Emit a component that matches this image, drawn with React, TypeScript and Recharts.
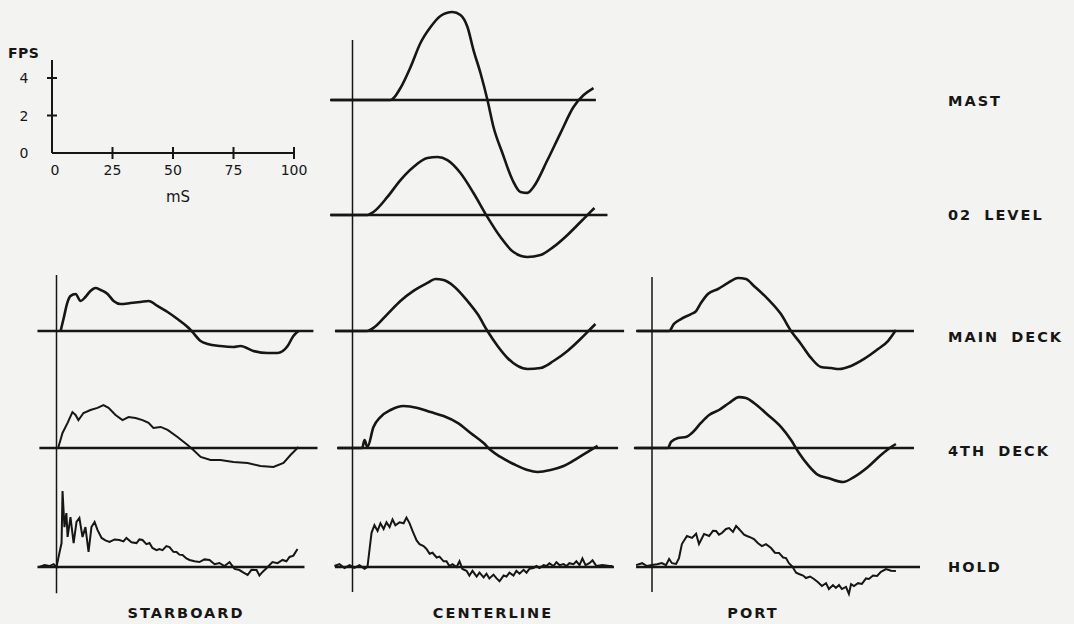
import React from 'react';
import { LineChart, Line, XAxis, YAxis, ReferenceLine } from 'recharts';

const W = 1074;
const H = 624;
const PX_PER_MS = 2.41;
const PX_PER_FPS = 19;
const INK = '#161616';
const PAPER = '#f3f3f1';
const FONT = '"DejaVu Sans", "Liberation Sans", sans-serif';

// velocity traces, [time mS, velocity FPS]
const mastCenterline = [[-9, 0], [15.8, 0], [19.9, 0.63], [24.1, 1.74], [28.2, 3.0], [32.4, 3.84], [36.5, 4.42], [41.5, 4.63], [44.8, 4.47], [47.7, 3.84], [50.2, 2.63], [53.1, 1.42], [56.0, 0], [58.5, -1.42], [62.2, -2.79], [66.4, -4.21], [69.7, -4.84], [72.6, -4.89], [75.1, -4.58], [80.9, -3.16], [86.3, -1.74], [91.7, -0.37], [95.9, 0.26], [100, 0.63]];
const level02Centerline = [[-9, 0], [6.2, 0], [8.7, 0.16], [14.5, 0.95], [19.9, 1.84], [25.3, 2.53], [31.1, 3.0], [35.3, 3.05], [39.4, 2.89], [44.8, 2.21], [50.2, 1.16], [56.0, -0.11], [61.4, -1.16], [66.8, -1.95], [72.6, -2.21], [78.0, -2.11], [83.4, -1.68], [89.2, -1.05], [94.6, -0.37], [97.5, 0], [100.4, 0.37]];

const mainStarboard = [[1.7, 0], [2.9, 0.63], [4.6, 1.53], [5.8, 1.84], [7.9, 1.95], [10.0, 1.58], [12.0, 1.79], [14.1, 2.11], [16.2, 2.26], [18.3, 2.16], [21.2, 1.95], [23.7, 1.58], [26.6, 1.42], [30.7, 1.47], [34.9, 1.53], [38.2, 1.58], [41.9, 1.32], [46.1, 1.0], [50.2, 0.63], [54.4, 0.21], [56.4, -0.05], [59.8, -0.53], [62.7, -0.68], [68.0, -0.79], [73.4, -0.84], [76.3, -0.79], [81.7, -1.05], [87.6, -1.16], [91.7, -1.16], [95.9, -0.79], [98.3, -0.26], [100.4, 0]];
const mainCenterline = [[-7, 0], [6.1, 0], [8.7, 0.16], [14.5, 0.89], [19.9, 1.58], [25.3, 2.11], [31.1, 2.53], [34.4, 2.74], [37.8, 2.68], [41.9, 2.37], [47.7, 1.58], [51.9, 0.89], [56.0, 0], [60.2, -0.79], [64.3, -1.42], [68.5, -1.84], [72.6, -2.0], [78.0, -1.95], [83.4, -1.58], [89.2, -1.05], [94.6, -0.42], [97.9, 0], [100.8, 0.37]];
const mainPort = [[-6, 0], [7.1, 0], [9.1, 0.37], [12.0, 0.63], [16.2, 0.89], [18.3, 1.05], [20.3, 1.47], [23.2, 1.95], [27.4, 2.21], [31.5, 2.53], [35.7, 2.79], [39.0, 2.74], [42.3, 2.37], [48.1, 1.68], [53.5, 0.89], [57.7, 0], [61.8, -0.68], [66.0, -1.42], [70.1, -1.89], [74.3, -1.95], [77.6, -2.0], [82.6, -1.84], [88.0, -1.47], [93.8, -0.95], [97.9, -0.53], [101.2, 0.05]];

const fourthStarboard = [[0.8, 0.05], [2.5, 0.79], [4.6, 1.32], [6.6, 1.89], [7.9, 1.74], [9.1, 1.47], [11.2, 1.84], [14.1, 2.0], [17.0, 2.11], [19.5, 2.26], [21.6, 2.11], [24.5, 1.74], [27.4, 1.47], [29.9, 1.63], [32.8, 1.58], [35.7, 1.47], [38.2, 1.32], [40.2, 1.05], [43.2, 1.11], [46.1, 0.95], [50.2, 0.58], [54.4, 0.16], [56.8, -0.11], [59.8, -0.47], [63.9, -0.63], [68.0, -0.63], [73.4, -0.74], [79.3, -0.79], [84.6, -0.95], [90.0, -1.0], [94.2, -0.79], [97.1, -0.37], [100.4, 0.05]];
const fourthCenterline = [[-6, 0], [4.0, 0], [5.0, 0.42], [6.2, 0.05], [8.7, 1.1], [11.6, 1.63], [15.8, 2.0], [21.2, 2.21], [27.0, 2.11], [32.4, 1.89], [37.8, 1.68], [43.6, 1.32], [49.0, 0.79], [54.4, 0.26], [57.3, -0.11], [61.4, -0.47], [66.8, -0.84], [72.6, -1.16], [76.8, -1.26], [82.2, -1.16], [87.6, -0.95], [93.4, -0.53], [98.8, -0.11], [101.7, 0.11]];
const fourthPort = [[-7, 0], [6.6, 0], [7.9, 0.32], [10.8, 0.53], [14.1, 0.58], [17.0, 0.84], [20.3, 1.32], [23.7, 1.74], [27.8, 2.0], [32.0, 2.37], [36.1, 2.68], [39.0, 2.63], [42.3, 2.37], [48.1, 1.74], [53.5, 1.11], [57.7, 0.42], [61.0, -0.26], [64.7, -0.89], [68.9, -1.42], [73.0, -1.58], [79.3, -1.79], [83.8, -1.53], [89.6, -1.0], [95.0, -0.37], [99.2, 0.05], [101.2, 0.21]];

const holdStarboard = [[-7.1, 0], [-5.0, 0.1], [-2.9, 0.05], [-1.2, 0.15], [0, 0], [1.2, 0.74], [2.1, 1.26], [2.5, 4.0], [3.3, 2.1], [4.1, 2.84], [4.6, 1.58], [5.8, 2.63], [7.1, 1.26], [8.3, 2.37], [9.5, 2.58], [10.8, 1.58], [12.0, 2.1], [13.3, 0.79], [14.5, 2.1], [15.8, 2.37], [17.0, 1.95], [18.7, 1.53], [20.3, 1.4], [22.0, 1.32], [24.1, 1.45], [26.1, 1.42], [27.8, 1.35], [29.0, 1.53], [31.1, 1.3], [33.2, 1.26], [34.4, 1.45], [35.7, 1.42], [37.3, 1.2], [38.6, 1.26], [39.8, 1.0], [41.5, 0.89], [42.7, 0.95], [44.0, 0.89], [45.6, 1.1], [46.9, 1.05], [48.5, 0.8], [49.8, 0.79], [51.0, 0.65], [52.3, 0.63], [53.9, 0.45], [55.2, 0.37], [57.3, 0.3], [59.3, 0.26], [61.4, 0.4], [63.5, 0.37], [65.6, 0.15], [67.6, 0.21], [69.7, 0.05], [71.8, 0.26], [73.9, -0.1], [75.9, -0.16], [77.6, -0.3], [79.3, -0.42], [80.9, -0.15], [83.0, -0.16], [84.2, -0.45], [85.5, -0.26], [87.6, 0.0], [89.6, 0.26], [91.7, 0.2], [93.8, 0.37], [95.4, 0.3], [96.7, 0.53], [98.3, 0.6], [100.0, 0.95]];
const holdCenterline = [[-7.5, 0.05], [-5.4, 0.15], [-3.3, -0.05], [-1.2, 0.1], [0.8, -0.05], [2.9, 0.1], [5.0, -0.1], [6.2, 0], [7.9, 1.8], [9.1, 2.2], [10.4, 1.9], [11.6, 2.3], [12.9, 2.0], [14.1, 2.35], [15.4, 2.1], [16.6, 2.5], [17.8, 2.2], [19.5, 2.35], [21.2, 2.3], [22.4, 2.6], [23.7, 2.3], [24.9, 1.9], [26.6, 1.4], [27.8, 1.2], [29.5, 1.1], [30.7, 0.95], [32.0, 0.7], [33.2, 0.75], [34.9, 0.5], [36.1, 0.55], [37.8, 0.3], [39.0, 0.3], [40.2, 0.05], [41.5, 0.15], [43.2, 0.0], [44.4, 0.3], [45.6, -0.1], [47.3, -0.2], [48.5, -0.45], [49.8, -0.2], [51.5, -0.5], [52.7, -0.3], [54.4, -0.55], [55.6, -0.35], [56.8, -0.6], [58.5, -0.4], [59.8, -0.6], [61.0, -0.75], [62.7, -0.45], [63.9, -0.5], [65.1, -0.3], [66.8, -0.45], [68.0, -0.2], [69.3, -0.35], [71.0, -0.15], [72.2, -0.3], [73.4, -0.1], [75.1, -0.05], [76.3, 0.05], [77.6, -0.05], [79.3, 0.1], [80.5, 0.05], [81.7, 0.2], [83.4, 0.05], [84.6, 0.25], [85.9, 0.1], [87.6, 0.15], [88.8, 0.05], [90.0, 0.2], [91.7, 0.15], [92.9, 0.3], [94.2, 0.1], [95.4, 0.45], [96.7, 0.1], [98.3, 0.2], [99.6, 0.35], [101.2, 0.05], [103.7, 0.1], [106.6, 0.05], [107.9, 0.05]];
const holdPort = [[-6.6, 0.1], [-4.1, 0.2], [-2.1, 0.05], [0, 0.1], [2.1, 0.15], [4.1, 0.21], [5.8, 0.1], [7.1, 0.42], [8.3, 0.2], [10.0, 0.16], [11.2, 0.47], [12.4, 1.21], [14.5, 1.63], [16.6, 1.53], [18.3, 1.75], [19.5, 1.21], [21.6, 1.74], [23.7, 1.63], [25.3, 1.9], [26.6, 1.89], [27.8, 1.7], [29.0, 1.79], [30.7, 2.0], [32.0, 2.05], [33.6, 1.85], [34.9, 2.16], [36.1, 2.0], [36.9, 1.89], [38.2, 1.7], [39.4, 1.63], [41.1, 1.55], [42.3, 1.47], [44.0, 1.25], [45.6, 1.1], [47.3, 1.2], [49.4, 1.0], [51.0, 0.75], [52.7, 0.74], [54.4, 0.5], [55.6, 0.47], [56.8, 0.2], [58.1, 0.05], [59.8, -0.3], [61.0, -0.37], [62.7, -0.45], [63.9, -0.58], [65.6, -0.5], [67.2, -0.63], [68.9, -0.8], [70.5, -1.0], [72.2, -0.85], [73.4, -1.16], [75.1, -0.95], [76.3, -1.1], [77.6, -0.95], [78.8, -1.16], [80.5, -1.05], [81.7, -1.42], [82.6, -0.9], [83.8, -1.0], [85.5, -0.85], [87.1, -0.89], [88.8, -0.6], [90.0, -0.63], [91.7, -0.45], [93.4, -0.47], [95.0, -0.25], [97.1, -0.11], [99.2, -0.2], [101.2, -0.21]];

// zero lines, [start mS, end mS]
const baseSpans = {
  stbdMain: [-7.9, 106.6], stbdFourth: [-7.1, 108.3], stbdHold: [-7.9, 102.9],
  clMast: [-9.3, 101], cl02: [-9.3, 105.8], clMain: [-7.3, 112.7], clFourth: [-6.4, 110.2], clHold: [-7.3, 108.5],
  portMain: [-6.6, 108.7], portFourth: [-7.5, 108.7], portHold: [-6.6, 111.2],
};

// scale key
const scaleMs = [0, 25, 50, 75, 100];
const scaleFps = [0, 2, 4];

const columns = [
  { id: 'stbd', label: 'STARBOARD', zeroX: 56.5, labelX: 186, anchor: 'main', span: [2.95, -13.8] },
  { id: 'cl', label: 'CENTERLINE', zeroX: 352.5, labelX: 493, anchor: 'mast', span: [3.16, -25.9] },
  { id: 'port', label: 'PORT', zeroX: 652, labelX: 753, anchor: 'main', span: [2.84, -13.74] },
];

const rows = [
  { id: 'mast', label: 'MAST', baseY: 100, labelY: 101 },
  { id: 'lvl02', label: '02 LEVEL', baseY: 215, labelY: 215 },
  { id: 'main', label: 'MAIN DECK', baseY: 331, labelY: 337 },
  { id: 'fourth', label: '4TH DECK', baseY: 448, labelY: 451 },
  { id: 'hold', label: 'HOLD', baseY: 567, labelY: 567 },
];

const traces = [
  { col: 'cl', row: 'mast', pts: mastCenterline, base: baseSpans.clMast, smooth: true },
  { col: 'cl', row: 'lvl02', pts: level02Centerline, base: baseSpans.cl02, smooth: true },
  { col: 'stbd', row: 'main', pts: mainStarboard, base: baseSpans.stbdMain, smooth: true },
  { col: 'cl', row: 'main', pts: mainCenterline, base: baseSpans.clMain, smooth: true },
  { col: 'port', row: 'main', pts: mainPort, base: baseSpans.portMain, smooth: true },
  { col: 'stbd', row: 'fourth', pts: fourthStarboard, base: baseSpans.stbdFourth, smooth: false },
  { col: 'cl', row: 'fourth', pts: fourthCenterline, base: baseSpans.clFourth, smooth: true },
  { col: 'port', row: 'fourth', pts: fourthPort, base: baseSpans.portFourth, smooth: true },
  { col: 'stbd', row: 'hold', pts: holdStarboard, base: baseSpans.stbdHold, smooth: false },
  { col: 'cl', row: 'hold', pts: holdCenterline, base: baseSpans.clHold, smooth: false },
  { col: 'port', row: 'hold', pts: holdPort, base: baseSpans.portHold, smooth: false },
];

const MsTick = (props: any) => {
  const { x, y, payload } = props;
  return (
    <g>
      {payload.value !== 0 && <line x1={x} x2={x} y1={y - 6} y2={y + 6} stroke={INK} strokeWidth={2} />}
      <text x={payload.value === 0 ? x + 3 : x} y={y + 22} textAnchor="middle" fontSize={14} fill={INK} fontFamily={FONT}>
        {payload.value}
      </text>
    </g>
  );
};

const FpsTick = (props: any) => {
  const { x, y, payload } = props;
  return (
    <g>
      {payload.value !== 0 && <line x1={x - 5} x2={x + 5} y1={y} y2={y} stroke={INK} strokeWidth={2} />}
      <text x={x - 28} y={y + 5} textAnchor="middle" fontSize={14} fill={INK} fontFamily={FONT}>
        {payload.value}
      </text>
    </g>
  );
};

const labelStyle: React.CSSProperties = {
  position: 'absolute',
  fontFamily: FONT,
  fontWeight: 700,
  fontSize: 14.5,
  letterSpacing: 2,
  wordSpacing: 5,
  color: INK,
  whiteSpace: 'nowrap',
  transform: 'translateY(-50%)',
};

const App: React.FC = () => {
  return (
    <div style={{ position: 'fixed', left: 0, top: 0, width: W, height: H, background: PAPER, overflow: 'hidden' }}>
      {/* scale key */}
      <div style={{ position: 'absolute', left: 0, top: 0 }}>
        <LineChart width={310} height={210} margin={{ top: 60, right: 16, bottom: 27, left: 12 }}>
          <XAxis type="number" dataKey="t" domain={[0, 100]} ticks={scaleMs} interval={0} tick={(p: any) => <MsTick {...p} />} tickLine={false} tickSize={0} tickMargin={0} height={30} axisLine={{ stroke: INK, strokeWidth: 2 }} />
          <YAxis type="number" dataKey="v" domain={[0, 4.96]} ticks={scaleFps} interval={0} tick={(p: any) => <FpsTick {...p} />} tickLine={false} tickSize={0} tickMargin={0} width={40} axisLine={{ stroke: INK, strokeWidth: 2 }} />
          <Line data={scaleMs.map((t) => ({ t, v: 0 }))} dataKey="v" stroke={INK} strokeWidth={2} dot={false} isAnimationActive={false} />
        </LineChart>
      </div>
      <div style={{ ...labelStyle, left: 8, top: 53, fontSize: 14, letterSpacing: 0.5 }}>FPS</div>
      <div style={{ ...labelStyle, left: 166, top: 197, fontWeight: 400, fontSize: 15, letterSpacing: 0 }}>mS</div>

      {/* traces */}
      <div style={{ position: 'absolute', left: 0, top: 0 }}>
        <LineChart width={W} height={H} margin={{ top: 0, right: 0, bottom: 0, left: 0 }}>
          {columns.map((c) => (
            <XAxis key={c.id} xAxisId={c.id} type="number" dataKey="t" hide allowDataOverflow
              domain={[-c.zeroX / PX_PER_MS, (W - c.zeroX) / PX_PER_MS]} />
          ))}
          {rows.map((r) => (
            <YAxis key={r.id} yAxisId={r.id} type="number" hide allowDataOverflow
              domain={[-(H - r.baseY) / PX_PER_FPS, r.baseY / PX_PER_FPS]} />
          ))}
          {columns.map((c) => (
            <ReferenceLine key={'v' + c.id} xAxisId={c.id} yAxisId={c.anchor} stroke={INK} strokeWidth={1.5}
              segment={[{ x: 0, y: c.span[0] }, { x: 0, y: c.span[1] }]} />
          ))}
          {traces.map((tr) => (
            <ReferenceLine key={'b' + tr.col + tr.row} xAxisId={tr.col} yAxisId={tr.row} stroke={INK} strokeWidth={2.6}
              segment={[{ x: tr.base[0], y: 0 }, { x: tr.base[1], y: 0 }]} />
          ))}
          {traces.map((tr) => (
            <Line key={tr.col + tr.row} data={tr.pts.map(([t, v]) => ({ t, v }))} dataKey="v"
              xAxisId={tr.col} yAxisId={tr.row} type={tr.smooth ? 'monotone' : 'linear'}
              stroke={INK} strokeWidth={tr.smooth ? 2.6 : 2} dot={false} isAnimationActive={false} />
          ))}
        </LineChart>
      </div>

      {rows.map((r) => (
        <div key={r.id} style={{ ...labelStyle, left: 948, top: r.labelY }}>{r.label}</div>
      ))}
      {columns.map((c) => (
        <div key={c.id} style={{ ...labelStyle, left: c.labelX, top: 613, transform: 'translate(-50%, -50%)' }}>{c.label}</div>
      ))}
    </div>
  );
};

export default App;
